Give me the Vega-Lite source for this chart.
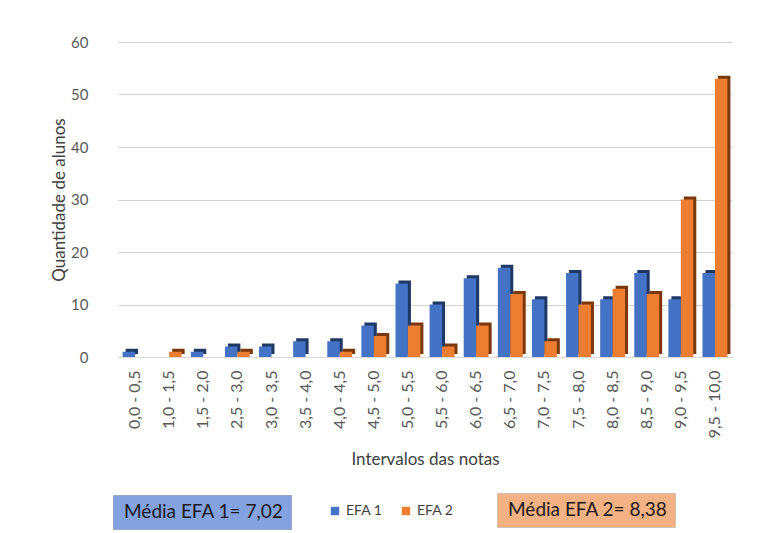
{
  "$schema": "https://vega.github.io/schema/vega-lite/v6.json",
  "width": 614,
  "height": 315,
  "autosize": {"type": "none"},
  "padding": {"left": 118, "top": 42, "right": 34, "bottom": 176},
  "background": "white",
  "config": {
    "font": "Lato",
    "view": {"stroke": null},
    "axis": {"labelColor": "#595959", "titleColor": "#404040", "titleFontWeight": "normal"}
  },
  "datasets": {
    "notas": [
      {"intervalo": "0,0 - 0,5", "serie": "EFA 1", "alunos": 1},
      {"intervalo": "0,0 - 0,5", "serie": "EFA 2", "alunos": 0},
      {"intervalo": "1,0 - 1,5", "serie": "EFA 1", "alunos": 0},
      {"intervalo": "1,0 - 1,5", "serie": "EFA 2", "alunos": 1},
      {"intervalo": "1,5 - 2,0", "serie": "EFA 1", "alunos": 1},
      {"intervalo": "1,5 - 2,0", "serie": "EFA 2", "alunos": 0},
      {"intervalo": "2,5 - 3,0", "serie": "EFA 1", "alunos": 2},
      {"intervalo": "2,5 - 3,0", "serie": "EFA 2", "alunos": 1},
      {"intervalo": "3,0 - 3,5", "serie": "EFA 1", "alunos": 2},
      {"intervalo": "3,0 - 3,5", "serie": "EFA 2", "alunos": 0},
      {"intervalo": "3,5 - 4,0", "serie": "EFA 1", "alunos": 3},
      {"intervalo": "3,5 - 4,0", "serie": "EFA 2", "alunos": 0},
      {"intervalo": "4,0 - 4,5", "serie": "EFA 1", "alunos": 3},
      {"intervalo": "4,0 - 4,5", "serie": "EFA 2", "alunos": 1},
      {"intervalo": "4,5 - 5,0", "serie": "EFA 1", "alunos": 6},
      {"intervalo": "4,5 - 5,0", "serie": "EFA 2", "alunos": 4},
      {"intervalo": "5,0 - 5,5", "serie": "EFA 1", "alunos": 14},
      {"intervalo": "5,0 - 5,5", "serie": "EFA 2", "alunos": 6},
      {"intervalo": "5,5 - 6,0", "serie": "EFA 1", "alunos": 10},
      {"intervalo": "5,5 - 6,0", "serie": "EFA 2", "alunos": 2},
      {"intervalo": "6,0 - 6,5", "serie": "EFA 1", "alunos": 15},
      {"intervalo": "6,0 - 6,5", "serie": "EFA 2", "alunos": 6},
      {"intervalo": "6,5 - 7,0", "serie": "EFA 1", "alunos": 17},
      {"intervalo": "6,5 - 7,0", "serie": "EFA 2", "alunos": 12},
      {"intervalo": "7,0 - 7,5", "serie": "EFA 1", "alunos": 11},
      {"intervalo": "7,0 - 7,5", "serie": "EFA 2", "alunos": 3},
      {"intervalo": "7,5 - 8,0", "serie": "EFA 1", "alunos": 16},
      {"intervalo": "7,5 - 8,0", "serie": "EFA 2", "alunos": 10},
      {"intervalo": "8,0 - 8,5", "serie": "EFA 1", "alunos": 11},
      {"intervalo": "8,0 - 8,5", "serie": "EFA 2", "alunos": 13},
      {"intervalo": "8,5 - 9,0", "serie": "EFA 1", "alunos": 16},
      {"intervalo": "8,5 - 9,0", "serie": "EFA 2", "alunos": 12},
      {"intervalo": "9,0 - 9,5", "serie": "EFA 1", "alunos": 11},
      {"intervalo": "9,0 - 9,5", "serie": "EFA 2", "alunos": 30},
      {"intervalo": "9,5 - 10,0", "serie": "EFA 1", "alunos": 16},
      {"intervalo": "9,5 - 10,0", "serie": "EFA 2", "alunos": 53}
    ]
  },
  "layer": [
    {
      "data": {"name": "notas"},
      "mark": {"type": "bar", "yOffset": -3},
      "encoding": {
        "x": {"field": "intervalo", "type": "nominal", "sort": null, "scale": {"paddingInner": 0.27, "paddingOuter": 0.135},
          "axis": {"title": "Intervalos das notas", "titleFontSize": 17, "titlePadding": 14, "labelAngle": -90, "labelFontSize": 16, "labelPadding": 13, "ticks": false, "domain": true, "domainColor": "#d9d9d9"}},
        "xOffset": {"field": "serie", "type": "nominal", "scale": {"range": [3, 27.9]}},
        "y": {"field": "alunos", "type": "quantitative", "scale": {"domain": [0, 60], "nice": false},
          "axis": {"title": "Quantidade de alunos", "titleFontSize": 17, "titlePadding": 2, "values": [0, 10, 20, 30, 40, 50, 60], "labelFontSize": 15, "labelPadding": 30, "ticks": false, "domain": false, "grid": true, "gridColor": "#d4d4d4"}},
        "color": {"field": "serie", "type": "nominal", "scale": {"domain": ["EFA 1", "EFA 2"], "range": ["#1f3864", "#7a370b"]}, "legend": null}
      }
    },
    {
      "data": {"name": "notas"},
      "mark": {"type": "bar"},
      "encoding": {
        "x": {"field": "intervalo", "type": "nominal", "sort": null},
        "xOffset": {"field": "serie", "type": "nominal"},
        "y": {"field": "alunos", "type": "quantitative"},
        "color": {"field": "serie", "type": "nominal", "scale": {"domain": ["EFA 1", "EFA 2"], "range": ["#4472c4", "#ed7d31"]},
          "legend": {"title": null, "orient": "none", "legendX": 210, "legendY": 462, "direction": "horizontal", "symbolType": "square", "symbolSize": 70, "labelFontSize": 14, "labelColor": "#404040", "columnPadding": 16, "symbolStrokeWidth": 0}}
      }
    },
    {
      "data": {"values": [{"m": "Média EFA 1= 7,02"}]},
      "mark": {"type": "point", "opacity": 0},
      "encoding": {
        "shape": {"field": "m", "type": "nominal", "legend": {"title": null, "orient": "none", "legendX": -5, "legendY": 453, "symbolSize": 0, "symbolOpacity": 0, "symbolStrokeWidth": 0, "labelOffset": -15, "labelFontSize": 19, "labelColor": "#1a1a1a", "padding": 7, "fillColor": "#84a2e0", "strokeColor": "#9aa7c0"}}
      }
    },
    {
      "data": {"values": [{"m": "Média EFA 2= 8,38"}]},
      "mark": {"type": "point", "opacity": 0},
      "encoding": {
        "shape": {"field": "m", "type": "nominal", "legend": {"title": null, "orient": "none", "legendX": 379, "legendY": 451, "symbolSize": 0, "symbolOpacity": 0, "symbolStrokeWidth": 0, "labelOffset": -15, "labelFontSize": 19, "labelColor": "#1a1a1a", "padding": 7, "fillColor": "#f4b183", "strokeColor": "#d0c0b0"}}
      }
    }
  ],
  "resolve": {"scale": {"shape": "independent", "color": "independent", "xOffset": "independent"}, "legend": {"shape": "independent", "color": "independent"}}
}
